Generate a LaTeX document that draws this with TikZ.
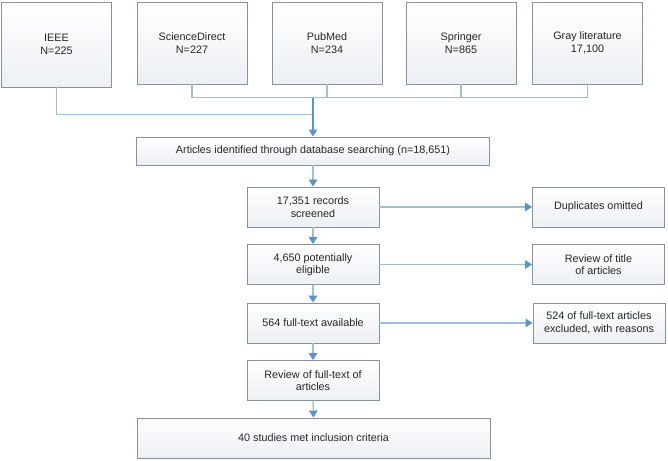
\documentclass[tikz,border=0pt]{standalone}
\usepackage{fontspec}
\setmainfont{Liberation Sans}
\usetikzlibrary{arrows.meta,positioning,calc}
\definecolor{edgegray}{RGB}{135,146,158}
\definecolor{boxfill}{RGB}{236,239,243}
\definecolor{linkblue}{RGB}{158,189,219}
\definecolor{tipblue}{RGB}{88,148,204}

\begin{document}
\begin{tikzpicture}[x=1pt,y=-1pt,thick]
\tikzset{block/.style={rectangle,draw=edgegray,line width=0.9pt,top color=white,bottom color=boxfill,align=center,font=\fontsize{10.8}{12.5}\selectfont,text=black!85,inner sep=0pt}}
\tikzset{src/.style={block,minimum width=110pt,minimum height=82pt}}
\tikzset{step box/.style={block,minimum width=132pt,minimum height=40pt}}
\tikzset{wide/.style={block,minimum width=353pt}}
\tikzset{line/.style={draw=linkblue,line width=1.3pt}}
\tikzset{arr/.style={line,-{Triangle[width=8.5pt,length=7pt,color=tipblue]}}}

\useasboundingbox (0,0) rectangle (668,460);

% sources
\node [src, minimum height=85pt] (ieee) at (56.5,44.5) {IEEE\\N=225};
\node [src] (sd) at (192,43) {ScienceDirect\\N=227};
\node [src, right of=sd, node distance=135pt] (pubmed) {PubMed\\N=234};
\node [src, right of=pubmed, node distance=134pt] (springer) {Springer\\N=865};
\node [src, right of=springer, node distance=126.5pt] (gray) {Gray literature\\17,100};

% main column
\node [wide, minimum height=28pt] (art) at (313,151) {Articles identified through database searching (n=18,651)};
\node [step box] (recs) at (313,207) {17,351 records\\screened};
\node [step box] (elig) at (313,264.5) {4,650 potentially\\eligible};
\node [step box] (full) at (313,323) {564 full-text available};
\node [step box] (revft) at (313,380.5) {Review of full-text of\\articles};
\node [wide, minimum height=40pt] (incl) at (313.5,438) {40 studies met inclusion criteria};

% side boxes
\node [step box] (dup) at (598.5,207) {Duplicates omitted};
\node [step box] (revt) at (598.5,264.5) {Review of title\\of articles};
\node [step box] (excl) at (599,323) {524 of full-text articles\\excluded, with reasons};

\coordinate (low) at ($(art.north)+(0,-22)$);
\coordinate (hub) at ($(art.north)+(0,-39)$);

\draw[line] (ieee.south) |- (low);
\foreach \n in {sd,pubmed,springer,gray}{%
\draw[line] (\n.south) |- (hub);}
\draw[arr,draw=tipblue,line width=1.8pt] (hub) -- (art.north);

\foreach \a/\b in {art/recs,recs/elig,elig/full,full/revft,revft/incl}{%
\draw[arr] (\a.south) -- (\b.north);}

\draw[arr] (recs) -- (dup);
\draw[arr] (elig) -- (revt);
\draw[arr] (full) -- (excl);
\end{tikzpicture}
\end{document}
